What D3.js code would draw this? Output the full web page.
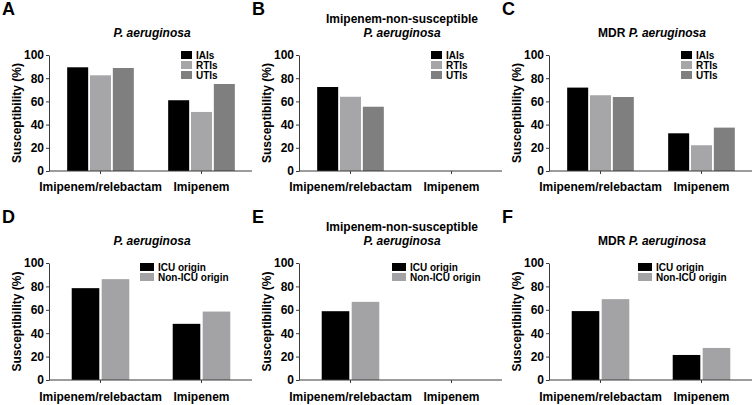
<!DOCTYPE html>
<html>
<head>
<meta charset="utf-8">
<script src="https://cdn.jsdelivr.net/npm/d3@7"></script>
<style>
  body { margin: 0; background: #fff; }
  svg { font-family: Arial, "Liberation Sans", sans-serif; }
  .axis path, .axis line { stroke: #3a3a3a; }
  .axis text { font-size: 12px; font-weight: bold; fill: #000; }
</style>
</head>
<body>
<svg id="chart" width="753" height="405"></svg>
<script>
const groups = ['Imipenem/relebactam', 'Imipenem'];
const yTicks = [0, 20, 40, 60, 80, 100];

const siteSeries = ['IAIs', 'RTIs', 'UTIs'];
const originSeries = ['ICU origin', 'Non-ICU origin'];
const siteColours = ['#000000', '#a6a6a8', '#7f7f7f'];
const originColours = ['#000000', '#a3a3a5'];

// A: all P. aeruginosa by infection site
const allIAIs = [89.4, 61.0];
const allRTIs = [82.5, 50.9];
const allUTIs = [88.8, 75.0];
// B: imipenem-non-susceptible by infection site
const insIAIs = [72.4, null];
const insRTIs = [64.0, null];
const insUTIs = [55.4, null];
// C: MDR by infection site
const mdrIAIs = [71.9, 32.5];
const mdrRTIs = [65.3, 22.2];
const mdrUTIs = [63.8, 37.4];
// D: all P. aeruginosa by origin
const allICU = [78.5, 48.0];
const allNonICU = [86.2, 58.5];
// E: imipenem-non-susceptible by origin
const insICU = [58.8, null];
const insNonICU = [66.8, null];
// F: MDR by origin
const mdrICU = [58.9, 21.4];
const mdrNonICU = [69.1, 27.4];

const svg = d3.select('#chart');

function drawPanel(p) {
  const g = svg.append('g').attr('transform', `translate(${p.x},0)`);
  const left = 50, right = 252;

  const y = d3.scaleLinear().domain([0, 100]).range([p.bottom, p.top]);
  const x0 = d3.scaleBand().domain(groups).range([left, right])
      .paddingInner(p.groupPad).paddingOuter(p.groupPad / 2);
  const x1 = d3.scaleBand().domain(p.series).range([0, x0.bandwidth()])
      .paddingInner(0.08);

  // panel letter
  g.append('text')
      .attr('x', 2).attr('y', p.top - 40)
      .attr('font-size', 18).attr('font-weight', 'bold')
      .text(p.letter);

  // title
  const cx = (left + right) / 2 + 1;
  p.title.forEach(function(line, i) {
    const t = g.append('text')
        .attr('x', cx).attr('y', p.titleY + i * 14)
        .attr('text-anchor', 'middle')
        .attr('font-size', 12).attr('font-weight', 'bold');
    line.forEach(function(seg) {
      t.append('tspan')
          .attr('font-style', seg.italic ? 'italic' : 'normal')
          .text(seg.text);
    });
  });

  // bars
  p.series.forEach(function(s, si) {
    g.selectAll('.bar' + si)
      .data(p.values[si].map(function(v, i) { return {group: groups[i], value: v}; })
              .filter(function(d) { return d.value !== null; }))
      .enter().append('rect')
        .attr('x', function(d) { return x0(d.group) + x1(s); })
        .attr('width', x1.bandwidth())
        .attr('y', function(d) { return y(d.value); })
        .attr('height', function(d) { return p.bottom - y(d.value); })
        .attr('fill', p.colours[si]);
  });

  // axes
  g.append('g')
      .attr('class', 'axis')
      .attr('transform', `translate(${left - 1},0)`)
      .call(d3.axisLeft(y).tickValues(yTicks).tickSize(3).tickPadding(2).tickSizeOuter(0));

  const xa = g.append('g')
      .attr('class', 'axis')
      .attr('transform', `translate(0,${p.bottom})`)
      .call(d3.axisBottom(x0).tickSize(3).tickPadding(p.xPad).tickSizeOuter(0));
  xa.selectAll('text').attr('font-size', 13);
  xa.select('.domain').attr('d', `M${left - 1},0H${right}`);

  // y label
  g.append('text')
      .attr('transform', `translate(21,${(p.top + p.bottom) / 2}) rotate(-90)`)
      .attr('text-anchor', 'middle')
      .attr('font-size', 12).attr('font-weight', 'bold')
      .text('Susceptibility (%)');

  // legend
  const lg = g.append('g')
      .attr('transform', `translate(${left + p.legendX},${p.top + p.legendY})`);
  p.series.forEach(function(s, si) {
    lg.append('rect')
        .attr('x', 0).attr('y', si * 10)
        .attr('width', p.swatchW).attr('height', 8)
        .attr('fill', p.colours[si]);
    lg.append('text')
        .attr('x', p.swatchW + 4).attr('y', si * 10 + 7.5)
        .attr('font-size', 10).attr('font-weight', 'bold')
        .text(s);
  });
}

const titleAll = [[{text: 'P. aeruginosa', italic: true}]];
const titleIns = [[{text: 'Imipenem-non-susceptible', italic: false}],
                  [{text: 'P. aeruginosa', italic: true}]];
const titleMdr = [[{text: 'MDR ', italic: false}, {text: 'P. aeruginosa', italic: true}]];

const topRow = {top: 55, bottom: 171, xPad: 8, groupPad: 0.34, series: siteSeries,
                colours: siteColours, legendX: 131, legendY: -4, swatchW: 11};
const bottomRow = {top: 263, bottom: 380, xPad: 9, groupPad: 0.43, series: originSeries,
                   colours: originColours, legendX: 90, legendY: 0, swatchW: 14};

drawPanel(Object.assign({}, topRow, {x: 0, letter: 'A', title: titleAll, titleY: 37,
  values: [allIAIs, allRTIs, allUTIs]}));
drawPanel(Object.assign({}, topRow, {x: 250, letter: 'B', title: titleIns, titleY: 23,
  values: [insIAIs, insRTIs, insUTIs]}));
drawPanel(Object.assign({}, topRow, {x: 500, letter: 'C', title: titleMdr, titleY: 37,
  values: [mdrIAIs, mdrRTIs, mdrUTIs]}));
drawPanel(Object.assign({}, bottomRow, {x: 0, letter: 'D', title: titleAll, titleY: 245,
  values: [allICU, allNonICU]}));
drawPanel(Object.assign({}, bottomRow, {x: 250, letter: 'E', title: titleIns, titleY: 231,
  values: [insICU, insNonICU], legendX: 92}));
drawPanel(Object.assign({}, bottomRow, {x: 500, letter: 'F', title: titleMdr, titleY: 245,
  values: [mdrICU, mdrNonICU], legendX: 88}));
</script>
</body>
</html>
